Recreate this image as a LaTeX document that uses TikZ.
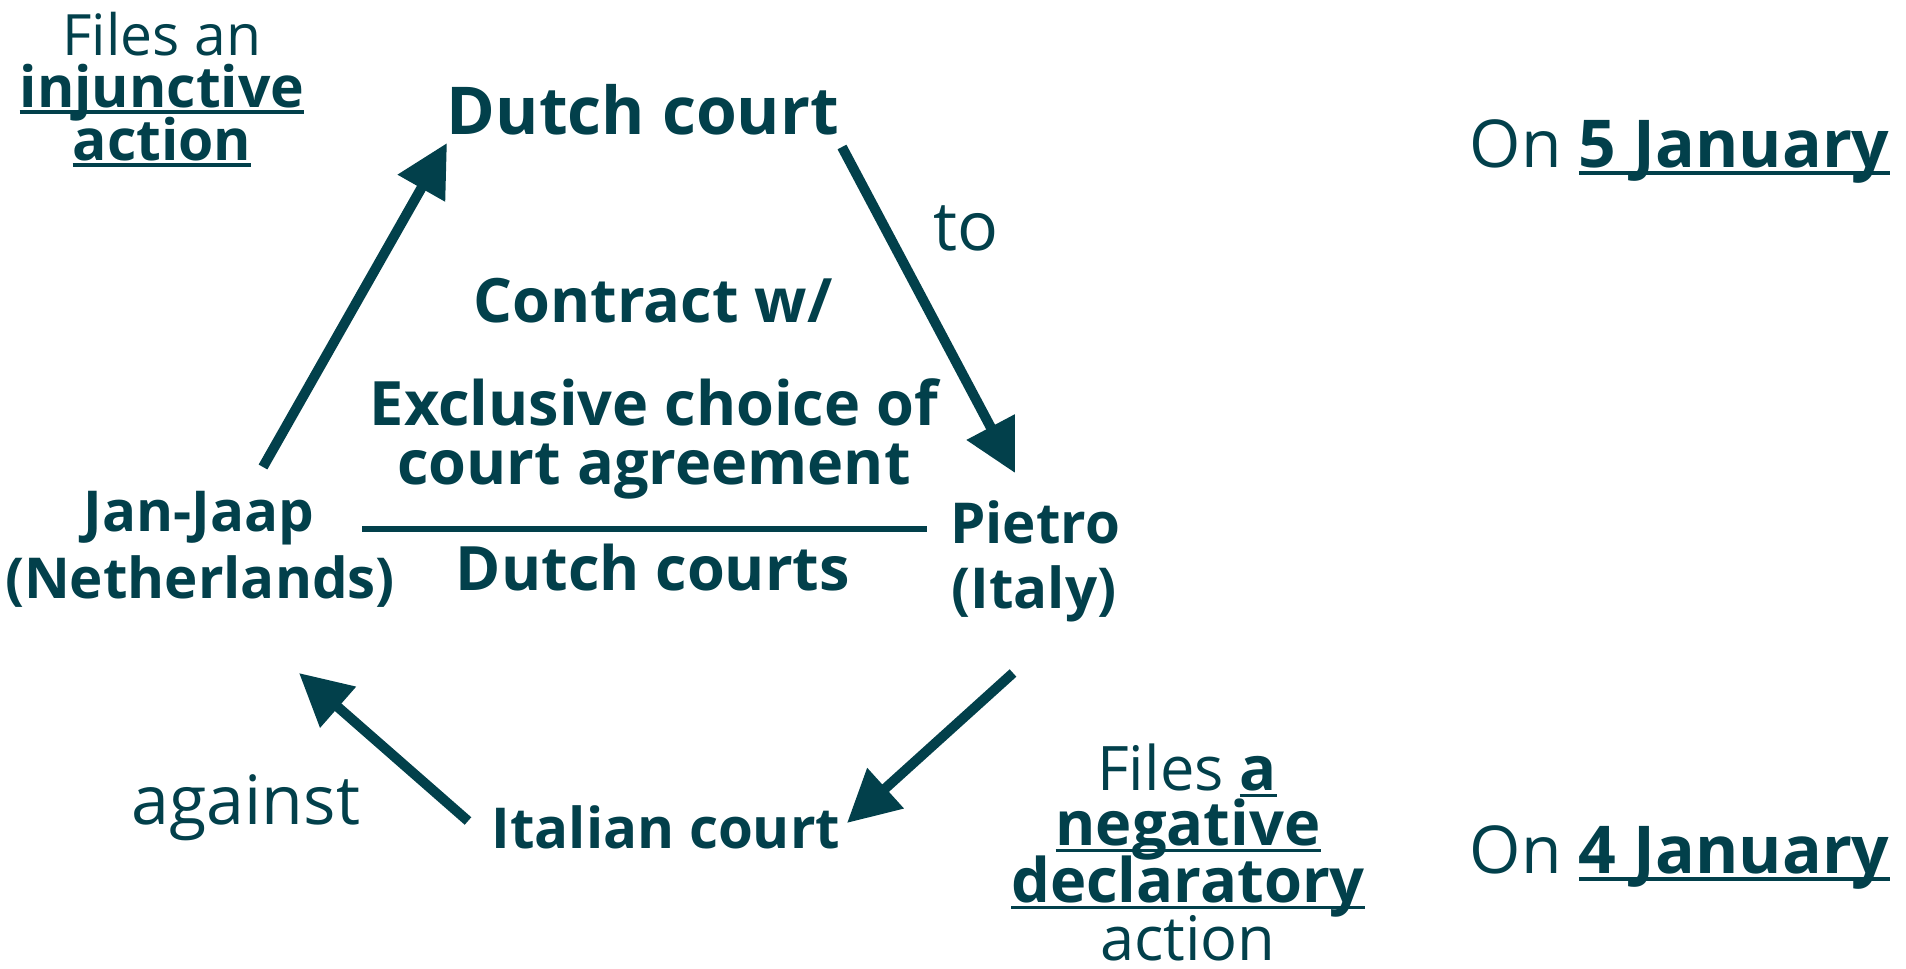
\documentclass[tikz,border=0pt]{standalone}
\usepackage{fontspec}
\setmainfont{Open Sans}
\usetikzlibrary{arrows.meta}
\definecolor{ink}{HTML}{02404B}
% underline at a fixed depth, running through descenders
\newcommand\ulword[1]{\setbox0=\hbox{#1}\rlap{\rule[-0.12em]{\wd0}{0.06em}}\box0}
\begin{document}
\begin{tikzpicture}[x=0.5pt,y=-0.5pt,
  every node/.style={inner sep=0pt,text=ink,anchor=base},
  court/.style={font=\fontsize{33}{33}\selectfont\bfseries},
  core/.style={font=\fontsize{30.6}{30.6}\selectfont\bfseries},
  party/.style={font=\fontsize{28.2}{28.2}\selectfont\bfseries},
  side/.style={font=\fontsize{28.5}{28.5}\selectfont},
  sideb/.style={font=\fontsize{30.7}{30.7}\selectfont},
  edge/.style={font=\fontsize{34}{34}\selectfont},
  date/.style={font=\fontsize{33}{33}\selectfont,anchor=base east},
  flow/.style={draw=ink,line width=5pt,-{Triangle[length=26pt,width=26pt]}}]
\useasboundingbox (0,0) rectangle (1906,969);

% courts and parties
\node[court] (dutch) at (643,134) {Dutch court};
\node[party] (italian) at (666,848) {Italian court};
\node[party] (jj1) at (199,531) {Jan-Jaap};
\node[party] (jj2) at (200,598) {(Netherlands)};
\node[party] (pi1) at (1035,543) {Pietro};
\node[party] (pi2) at (1034,608) {(Italy)};

% the contract in the middle
\node[core] (c1) at (653,322) {Contract w/};
\node[core] (c2) at (654,425) {Exclusive choice of};
\node[core] (c3) at (654,484) {court agreement};
\node[core] (c4) at (653,590) {Dutch courts};
\coordinate (ruleL) at (362,529);
\coordinate (ruleR) at (927,529);
\draw[ink,line width=3pt] (ruleL) -- (ruleR);

% labels on the arrows
\node[edge] (to) at (966,250) {to};
\node[edge] (against) at (246,824) {against};

% the two actions
\node[side] (fa1) at (162,55) {Files an};
\node[side] (fa2) at (162,107) {\bfseries\ulword{injunctive}};
\node[side] (fa3) at (162,160) {\bfseries\ulword{action}};
\node[sideb] (fb1) at (1187,790) {Files \bfseries\ulword{a}};
\node[sideb] (fb2) at (1188,845) {\bfseries\ulword{negative}};
\node[sideb] (fb3) at (1188,902) {\bfseries\ulword{declaratory}};
\node[sideb] (fb4) at (1188,960) {action};

% dates
\node[date] (d5) at (1890,167) {On \bfseries\ulword{5 January}};
\node[date] (d4) at (1890,873) {On \bfseries\ulword{4 January}};

% arrows
\coordinate (a1s) at (263,467); \coordinate (a1e) at (447,143);
\coordinate (a2s) at (842,147); \coordinate (a2e) at (1015,473);
\coordinate (a3s) at (1013,673); \coordinate (a3e) at (847,823);
\coordinate (a4s) at (468,821); \coordinate (a4e) at (299,673);
\draw[flow] (a1s) -- (a1e);
\draw[flow] (a2s) -- (a2e);
\draw[flow] (a3s) -- (a3e);
\draw[flow] (a4s) -- (a4e);
\end{tikzpicture}
\end{document}
